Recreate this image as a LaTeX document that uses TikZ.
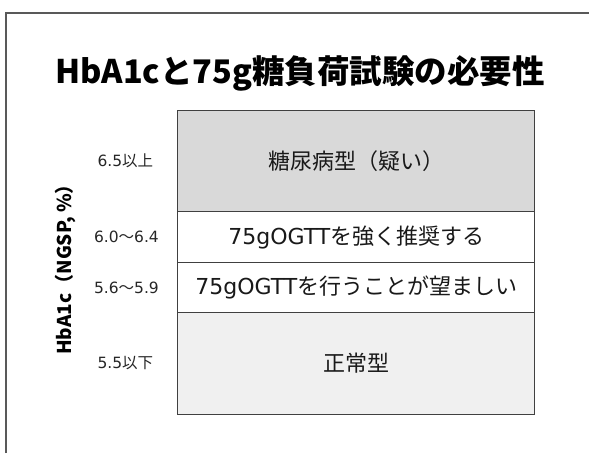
\documentclass[tikz,border=0pt]{standalone}
\usepackage{fontspec}
\setmainfont{DejaVu Sans}
\newfontfamily\jp{Noto Sans CJK JP}
\usetikzlibrary{positioning}

\definecolor{suspect}{HTML}{D9D9D9}
\definecolor{normal}{HTML}{F0F0F0}

\begin{document}
\begin{tikzpicture}[
    x=1pt,
    y=-1pt,
    on grid,
    band/.style={draw=black!75, line width=1pt, minimum width=357pt,
        inner sep=0pt, text=black!90, font=\fontsize{22}{26}\selectfont},
    level/.style={text=black!85, font=\fontsize{15.5}{18}\selectfont},
]

    \useasboundingbox (0,0) rectangle (589,453);
    \draw[black!65, line width=1.5pt] (6,453) -- (6,13) -- (589,13);

    \node[font=\jp\bfseries\fontsize{32.5}{38}\selectfont] (T) at (300,73)
        {HbA1cと75g糖負荷試験の必要性};

    \node[band, fill=suspect, minimum height=101pt]        (S1) at (356.4,161.2) {\jp 糖尿病型（疑い）};
    \node[band, fill=white,  minimum height=51pt,  below=76pt of S1]   (S2) {75gOGTT\jp を強く推奨する};
    \node[band, fill=white,  minimum height=50pt,  below=50.5pt of S2] (S3) {75gOGTT\jp を行うことが望ましい};
    \node[band, fill=normal, minimum height=101.6pt, below=75.8pt of S3] (S4) {\jp 正常型};

    \node[level, left=231pt of S1] (L1) {6.5\jp 以上};
    \node[level, left=230pt of S2] (L2) {6.0{\jp 〜}6.4};
    \node[level, left=230pt of S3] (L3) {5.6{\jp 〜}5.9};
    \node[level, left=231pt of S4] (L4) {5.5\jp 以下};

    \node[rotate=90, font=\jp\bfseries\fontsize{19}{22}\selectfont] (Y) at (65.5,265)
        {HbA1c（NGSP, \%）};
\end{tikzpicture}
\end{document}
